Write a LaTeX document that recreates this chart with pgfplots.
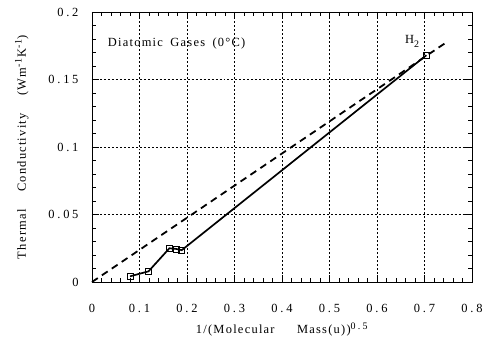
\documentclass[border=0pt]{standalone}
\usepackage{pgfplots}
\pgfplotsset{compat=1.18}
\usepackage{fontspec}
\setmainfont{Liberation Serif}
\newfontfamily\numfont[LetterSpace=22]{Liberation Serif}
\newfontfamily\txtfont[LetterSpace=10]{Liberation Serif}
\begin{document}
\begin{tikzpicture}
\begin{axis}[
  scale only axis,
  width=380bp, height=270bp,
  xmin=0, xmax=0.8, ymin=0, ymax=0.2,
  xtick={0,0.1,...,0.8},
  ytick={0,0.05,0.1,0.15,0.2},
  xticklabels={0,0.1,0.2,0.3,0.4,0.5,0.6,0.7,0.8},
  yticklabels={0,0.05,0.1,0.15,0.2},
  minor x tick num=4, minor y tick num=4,
  tick align=inside, tick pos=both,
  major tick length=7bp, minor tick length=4bp,
  grid=major,
  major grid style={black, line width=0.4pt, dash pattern=on 2pt off 2pt},
  axis line style={black, line width=0.8pt},
  tick style={black, line width=0.6pt},
  tick label style={font=\fontsize{12.5}{14}\selectfont\numfont},
  xticklabel style={yshift=-19bp},
  yticklabel style={xshift=-10bp},
  label style={font=\fontsize{12.5}{14}\selectfont\txtfont},
  xlabel={1/(Molecular\hspace{1.8em}Mass(u))$^{\mbox{\fontsize{10}{12}\selectfont\numfont 0.5}}$},
  ylabel={Thermal\hspace{1.4em}Conductivity\hspace{1.4em}(Wm$^{\mbox{\fontsize{10}{12}\selectfont -1}}$K$^{\mbox{\fontsize{10}{12}\selectfont -1}}$)},
  xlabel style={yshift=-3bp},
  ylabel style={yshift=13bp},
  clip=false,
]
\addplot[black, line width=1.8pt, dash pattern=on 7pt off 5pt] coordinates {(0,0) (0.748,0.178)};
\addplot[black, line width=1.7pt, mark=square, mark size=3pt, mark options={solid, line width=0.7pt, fill=white}] coordinates {
(0.080,0.0042) (0.119,0.0079) (0.163,0.0250) (0.177,0.0245) (0.189,0.0236) (0.704,0.1680)};
\node[anchor=west, font=\fontsize{12.5}{14}\selectfont\txtfont] at (axis cs:0.026,0.1765) {Diatomic\hspace{0.6em}Gases\hspace{0.6em}(0\textdegree C)};
\node[anchor=west, font=\fontsize{12.5}{14}\selectfont] at (axis cs:0.652,0.178) {H\raisebox{-0.7ex}{\fontsize{10}{12}\selectfont 2}};
\path ([shift={(-92bp,-73bp)}]rel axis cs:0,0) rectangle ([shift={(17bp,12bp)}]rel axis cs:1,1);
\end{axis}
\end{tikzpicture}
\end{document}
